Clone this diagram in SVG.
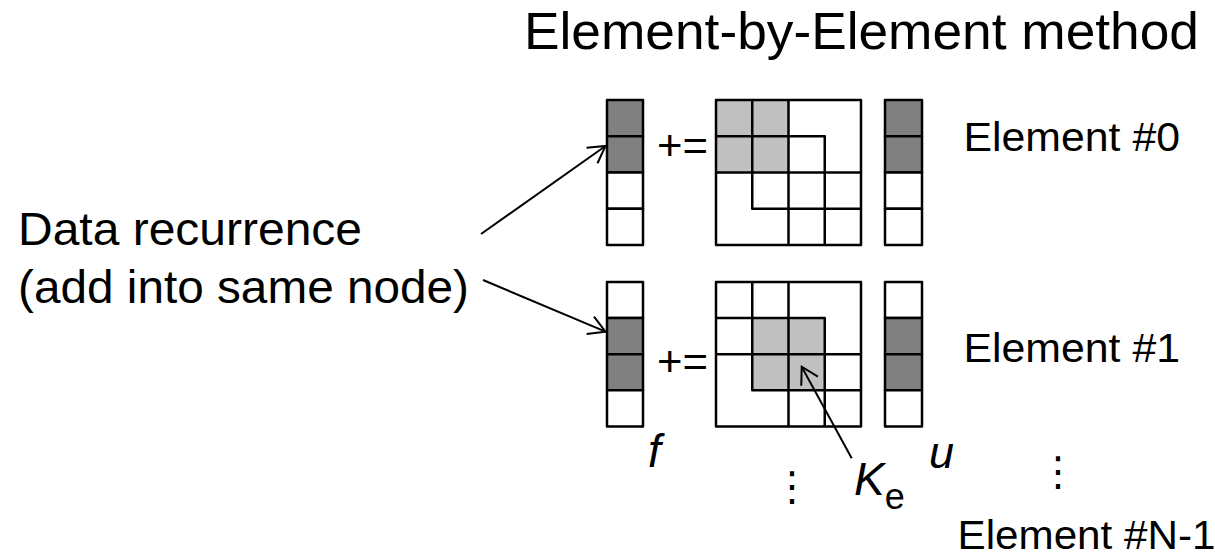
<svg xmlns="http://www.w3.org/2000/svg" width="1215" height="557" viewBox="0 0 1215 557">
<style>
text{font-family:"Liberation Sans",Arial,sans-serif;fill:#000}
.it{font-style:italic}
.cell{stroke:#000;stroke-width:2.5;stroke-linejoin:round}
.w{fill:#fff}
.d{fill:#808080}
.l{fill:#c0c0c0}
.grid{fill:none;stroke:#000;stroke-width:2.5;stroke-linejoin:round}
.conn{fill:none;stroke:#000;stroke-width:2}
.dots{font-family:"DejaVu Sans",sans-serif}
</style>
<defs>
<marker id="open" markerUnits="userSpaceOnUse" markerWidth="30" markerHeight="30" refX="0" refY="0" orient="auto" overflow="visible">
<path d="M-16.5,-9.5 L0,0 L-16.5,9.5" fill="none" stroke="#000" stroke-width="2" stroke-linejoin="miter"/>
</marker>
</defs>
<rect width="1215" height="557" fill="#fff"/>

<g id="title"><text x="524" y="49" font-size="52.5" textLength="675" lengthAdjust="spacingAndGlyphs">Element-by-Element method</text></g>

<g id="label-recurrence">
<text x="18" y="245" font-size="46" textLength="344" lengthAdjust="spacingAndGlyphs">Data recurrence</text>
<text x="18" y="303" font-size="46" textLength="451" lengthAdjust="spacingAndGlyphs">(add into same node)</text>
</g>

<g id="element0">
<g id="f0">
<rect class="cell d" x="607" y="100" width="36" height="36.25"/>
<rect class="cell d" x="607" y="136.25" width="36" height="36.25"/>
<rect class="cell w" x="607" y="172.5" width="36" height="36.25"/>
<rect class="cell w" x="607" y="208.75" width="36" height="36.25"/>
</g>
<text id="plus0" x="657" y="160" font-size="42" textLength="51" lengthAdjust="spacingAndGlyphs">+=</text>
<g id="K0">
<rect x="716" y="100" width="145" height="145" fill="#fff"/>
<rect class="l" x="716" y="100" width="72.5" height="72.5"/>
<rect class="grid" x="716" y="100" width="145" height="145"/>
<path class="grid" d="M716,172.5H861 M788.5,100V245 M716,136.25H824.75V245 M752.25,100V208.75H861"/>
</g>
<g id="u0">
<rect class="cell d" x="885" y="100" width="37" height="36.25"/>
<rect class="cell d" x="885" y="136.25" width="37" height="36.25"/>
<rect class="cell w" x="885" y="172.5" width="37" height="36.25"/>
<rect class="cell w" x="885" y="208.75" width="37" height="36.25"/>
</g>
<text id="label0" x="963.5" y="150.7" font-size="40.5" textLength="216.5" lengthAdjust="spacingAndGlyphs">Element #0</text>
</g>

<g id="element1">
<g id="f1">
<rect class="cell w" x="607" y="282" width="36" height="36.1"/>
<rect class="cell d" x="607" y="318.1" width="36" height="36.1"/>
<rect class="cell d" x="607" y="354.2" width="36" height="36.1"/>
<rect class="cell w" x="607" y="390.3" width="36" height="36.1"/>
</g>
<text id="plus1" x="657" y="376" font-size="42" textLength="51" lengthAdjust="spacingAndGlyphs">+=</text>
<g id="K1">
<rect x="716" y="282" width="145" height="144.4" fill="#fff"/>
<rect class="l" x="752.25" y="318.1" width="72.5" height="72.2"/>
<rect class="grid" x="716" y="282" width="145" height="144.4"/>
<path class="grid" d="M716,354.2H861 M788.5,282V426.4 M716,318.1H824.75V426.4 M752.25,282V390.3H861"/>
</g>
<g id="u1">
<rect class="cell w" x="885" y="282" width="37" height="36.1"/>
<rect class="cell d" x="885" y="318.1" width="37" height="36.1"/>
<rect class="cell d" x="885" y="354.2" width="37" height="36.1"/>
<rect class="cell w" x="885" y="390.3" width="37" height="36.1"/>
</g>
<text id="label1" x="963.5" y="361.5" font-size="40.5" textLength="216.5" lengthAdjust="spacingAndGlyphs">Element #1</text>
</g>

<g id="labels-bottom">
<text id="f-label" class="it" x="648" y="467" font-size="46">f</text>
<text id="u-label" class="it" x="929" y="468" font-size="45">u</text>
<text id="Ke-label" x="854" y="495" font-size="46"><tspan class="it">K</tspan><tspan font-size="36" y="509">e</tspan></text>
<text id="vdots1" class="dots" x="792" y="500" font-size="40" text-anchor="middle">⋮</text>
<text id="vdots2" class="dots" x="1058" y="485" font-size="40" text-anchor="middle">⋮</text>
<text id="labelN" x="957.5" y="549" font-size="40" textLength="258" lengthAdjust="spacingAndGlyphs">Element #N-1</text>
</g>

<g id="connectors">
<line class="conn" x1="481" y1="234" x2="605.5" y2="146" marker-end="url(#open)"/>
<line class="conn" x1="483" y1="280" x2="605.5" y2="331.7" marker-end="url(#open)"/>
<line class="conn" x1="851.7" y1="458.3" x2="801.7" y2="366.7" marker-end="url(#open)"/>
</g>
</svg>
